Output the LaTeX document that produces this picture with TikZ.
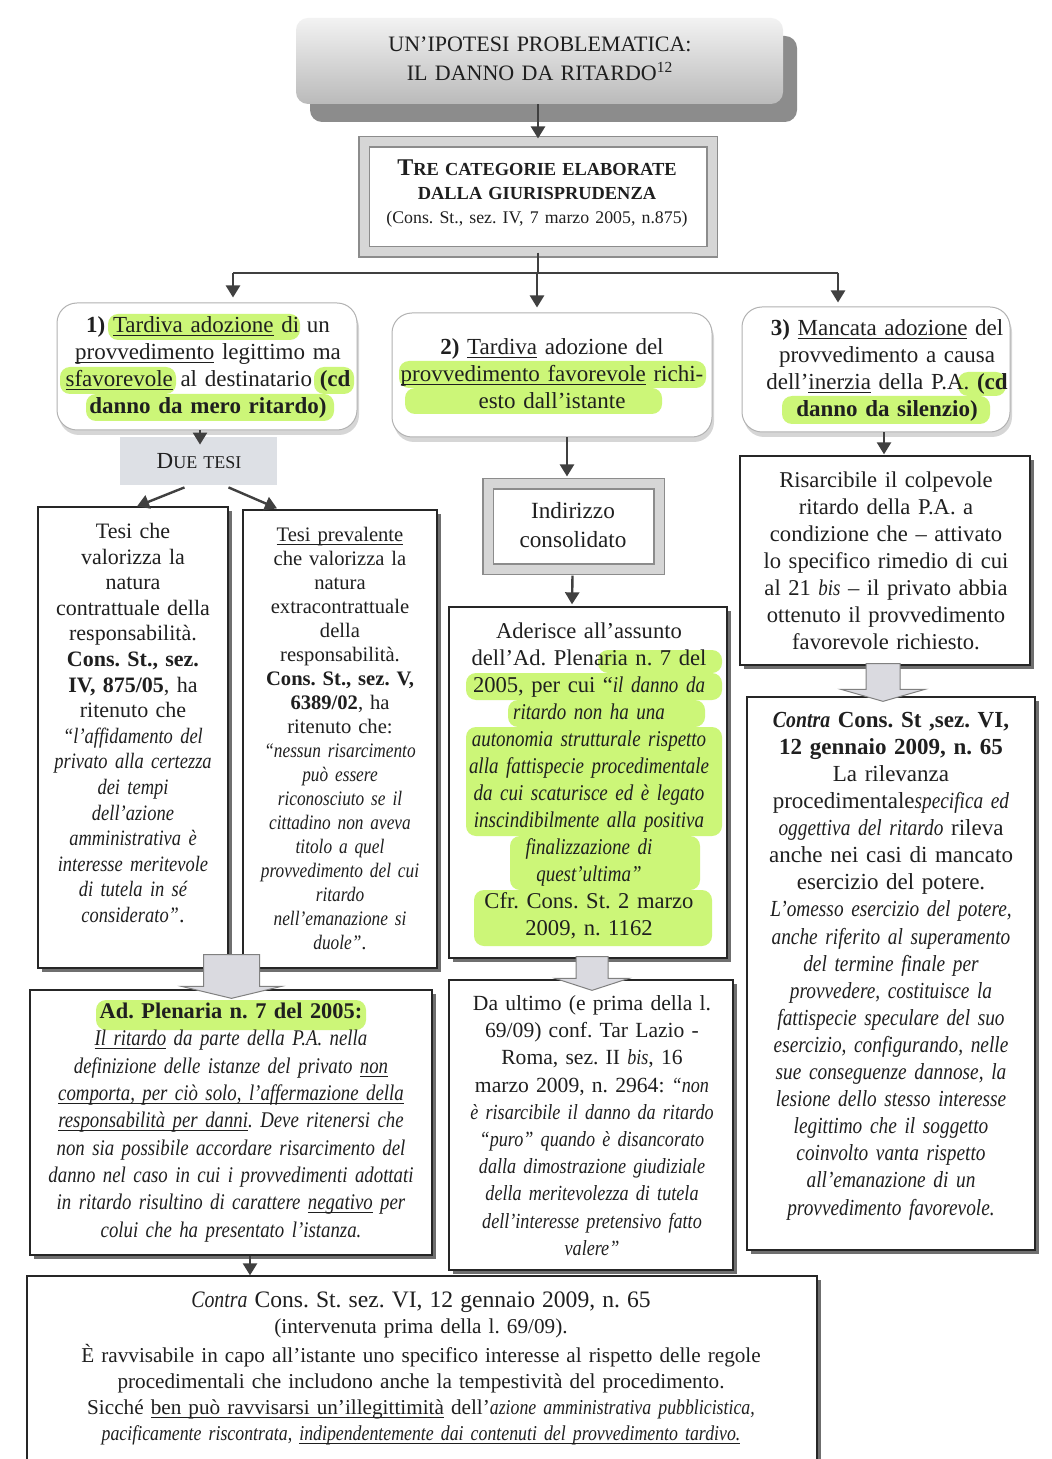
\documentclass[tikz,border=0pt]{standalone}
\usepackage{fontspec}
\setmainfont{Liberation Serif}[ItalicFeatures={FakeStretch=0.84},BoldItalicFeatures={FakeStretch=0.86}]
\usetikzlibrary{arrows.meta,shadows,calc}

% underline sitting just below the baseline
\newcommand\undl[1]{\leavevmode\setbox0\hbox{#1}\rlap{\rule[-1.7pt]{\wd0}{0.45pt}}\box0\relax}

\definecolor{hlgreen}{RGB}{204,246,120}
\definecolor{inkgray}{RGB}{64,64,64}
\definecolor{duefill}{RGB}{221,224,229}
\definecolor{blockfill}{RGB}{218,218,224}

\tikzset{
  frame/.style={draw=black!85, line width=0.65pt, fill=white,
    drop shadow={shadow xshift=2.2pt, shadow yshift=-2.2pt, fill=black!70, opacity=0.8}},
  roundframe/.style={draw=black!30, line width=0.5pt, rounded corners=10pt, fill=white,
    drop shadow={shadow xshift=1pt, shadow yshift=-2.5pt, fill=black!45, opacity=0.35}},
  dblframe/.style={draw=black!45, line width=0.55pt, double=black!16, double distance=4.5pt, fill=white},
  titleframe/.style={rounded corners=6pt, top color=black!5, bottom color=black!27,
    drop shadow={shadow xshift=7pt, shadow yshift=-9pt, fill=black!45, opacity=1}},
  duebox/.style={fill=duefill},
  txt/.style={align=center, inner sep=0pt, text=black!88, text width=#1},
  txt/.default=240pt,
  conn/.style={draw=inkgray, line width=1pt},
  arr/.style={draw=inkgray, line width=1.2pt, -{Triangle[width=7pt,length=6pt]}},
  blockarrow/.style={draw=black!50, line width=0.5pt, fill=blockfill},
  hl/.style={fill=hlgreen, rounded corners=5pt},
}

% wide hollow arrow: #1 top, #2 tip, #3 half shaft, #4 half head, #5 head length
\newcommand\blockarrow[5]{%
  \draw[blockarrow] ($(#1)+(-#3,0)$) -- ($(#2)+(-#3,-#5)$) -- ($(#2)+(-#4,-#5)$) -- (#2)
    -- ($(#2)+(#4,-#5)$) -- ($(#2)+(#3,-#5)$) -- ($(#1)+(#3,0)$) -- cycle;}

\begin{document}
\frenchspacing
\begin{tikzpicture}[x=0.5pt, y=-0.5pt]
\useasboundingbox (0,0) rectangle (1052,1459);
\fill[white] (0,0) rectangle (1052,1459);

% ---------- frames ----------
\node[titleframe, minimum width=243.5pt, minimum height=43pt] (title) at (539.5,61) {};
\node[dblframe, minimum width=174pt, minimum height=55pt] (cat) at (538,197) {};

\node[roundframe, minimum width=150pt, minimum height=63.5pt] (A1) at (207,366.5) {};
\node[roundframe, minimum width=160pt, minimum height=62pt] (A2) at (552,375) {};
\node[roundframe, minimum width=134pt, minimum height=62.5pt] (A3) at (876,369.5) {};

\node[duebox, minimum width=78.5pt, minimum height=24pt] (due) at (198.5,461) {};

\node[frame, minimum width=95pt, minimum height=230.5pt] (B1) at (133,737.5) {};
\node[frame, minimum width=97pt, minimum height=229pt] (B2) at (340,739) {};

\node[dblframe, minimum width=85.5pt, minimum height=42.5pt] (ind) at (573.5,526.5) {};
\node[frame, minimum width=139pt, minimum height=175.5pt] (C2) at (588,782.5) {};

\node[frame, minimum width=145pt, minimum height=104.5pt] (R1) at (885,560.5) {};
\node[frame, minimum width=144pt, minimum height=276.5pt] (R2) at (891,973.5) {};

\node[frame, minimum width=201pt, minimum height=132.5pt] (C1) at (231,1122.5) {};
\node[frame, minimum width=142pt, minimum height=145pt] (D2) at (591,1125) {};

\node[frame, minimum width=395pt, minimum height=95pt] (E) at (422,1371) {};

% ---------- highlighter marks ----------
\fill[hl] (108,314) rectangle (300,340);
\fill[hl] (60,367) rectangle (176,394);
\fill[hl] (314,367) rectangle (354,394);
\fill[hl] (86,394) rectangle (334,421);
\fill[hl] (399,361) rectangle (706,388);
\fill[hl] (405,388) rectangle (662,414);
\fill[hl] (958,372) rectangle (1006,396);
\fill[hl] (782,396) rectangle (990,424);
\fill[hl] (96,1000) rectangle (366,1030);
\fill[hl] (598,650) rectangle (722,673);
\fill[hl] (466,673) rectangle (722,700);
\fill[hl] (508,700) rectangle (705,727);
\fill[hl] (466,727) rectangle (722,836);
\fill[hl] (510,836) rectangle (700,890);
\fill[hl] (474,890) rectangle (712,946);

% ---------- texts ----------
\node[txt, font=\fontsize{11}{14.5}\selectfont] (titlet) at (540,58.5)
  {UN’IPOTESI PROBLEMATICA:\\ IL DANNO DA RITARDO\textsuperscript{12}};

\node[txt, font=\fontsize{9.2}{12}\selectfont] (catt) at (537,194)
  {\textbf{{\fontsize{12}{12}\selectfont T}RE CATEGORIE ELABORATE}\\
   \textbf{DALLA GIURISPRUDENZA}\\
   {\fontsize{8.9}{12}\selectfont (Cons. St., sez. IV, 7 marzo 2005, n.875)}};

\node[txt, font=\fontsize{11.5}{13.5}\selectfont] (A1t) at (208,367)
  {\textbf{1)} \undl{Tardiva adozione} di un\\
   \undl{provvedimento} legittimo ma\\
   \undl{sfavorevole} al destinatario \textbf{(cd}\\
   \textbf{danno da mero ritardo)}};

\node[txt, font=\fontsize{11.5}{13.5}\selectfont] (A2t) at (552,374)
  {\textbf{2)} \undl{Tardiva} adozione del\\
   \undl{provvedimento favorevole} richi-\\
   esto dall’istante};

\node[txt, font=\fontsize{11.5}{13.5}\selectfont] (A3t) at (887,370)
  {\textbf{3)} \undl{Mancata adozione} del\\
   provvedimento a causa\\
   dell’\undl{inerzia} della P.A. \textbf{(cd}\\
   \textbf{danno da silenzio)}};

\node[txt, font=\fontsize{9}{13}\selectfont] (duet) at (199,461)
  {{\fontsize{11.5}{13}\selectfont D}UE TESI};

\node[txt, font=\fontsize{11}{12.8}\selectfont] (B1t) at (133,723)
  {Tesi che\\ valorizza la\\ natura\\ contrattuale della\\ responsabilità.\\
   \textbf{Cons. St., sez.}\\ \textbf{IV, 875/05}, ha\\ ritenuto che\\
   {\itshape “l’affidamento del\\ privato alla certezza\\ dei tempi\\ dell’azione\\
   amministrativa è\\ interesse meritevole\\ di tutela in sé\\ considerato”}.};

\node[txt, font=\fontsize{10.3}{12}\selectfont] (B2t) at (340,738.5)
  {\undl{Tesi prevalente}\\ che valorizza la\\ natura\\ extracontrattuale\\ della\\ responsabilità.\\
   \textbf{Cons. St., sez. V,}\\ \textbf{6389/02}, ha\\ ritenuto che:\\
   {\itshape “nessun risarcimento\\ può essere\\ riconosciuto se il\\ cittadino non aveva\\
   titolo a quel\\ provvedimento del cui\\ ritardo\\ nell’emanazione si\\ duole”}.};

\node[txt, font=\fontsize{11.6}{14.5}\selectfont] (indt) at (573,525.5)
  {Indirizzo\\ consolidato};

\node[txt, font=\fontsize{11.3}{13.5}\selectfont] (C2t) at (589,781)
  {Aderisce all’assunto\\ dell’Ad. Plenaria n. 7 del\\ 2005, per cui “{\itshape il danno da\\
   ritardo non ha una\\ autonomia strutturale rispetto\\ alla fattispecie procedimentale\\
   da cui scaturisce ed è legato\\ inscindibilmente alla positiva\\ finalizzazione di\\
   quest’ultima”}\\ Cfr. Cons. St. 2 marzo\\ 2009, n. 1162};

\node[txt, font=\fontsize{11.3}{13.5}\selectfont] (R1t) at (886,561)
  {Risarcibile il colpevole\\ ritardo della P.A. a\\ condizione che – attivato\\
   lo specifico rimedio di cui\\ al 21 \textit{bis} – il privato abbia\\
   ottenuto il provvedimento\\ favorevole richiesto.};

\node[txt, font=\fontsize{11.5}{13.55}\selectfont] (R2t) at (891,966)
  {\textbf{\textit{Contra} Cons. St ,sez. VI,}\\ \textbf{12 gennaio 2009, n. 65}\\
   La rilevanza\\ procedimentale\textit{specifica ed}\\ \textit{oggettiva del ritardo} rileva\\
   anche nei casi di mancato\\ esercizio del potere.\\
   {\itshape L’omesso esercizio del potere,\\ anche riferito al superamento\\
   del termine finale per\\ provvedere, costituisce la\\ fattispecie speculare del suo\\
   esercizio, configurando, nelle\\ sue conseguenze dannose, la\\
   lesione dello stesso interesse\\ legittimo che il soggetto\\ coinvolto vanta rispetto\\
   all’emanazione di un\\ provvedimento favorevole.}};

\node[txt, font=\fontsize{11.2}{13.65}\selectfont] (C1t) at (231,1122.5)
  {\textbf{Ad. Plenaria n. 7 del 2005:}\\
   {\itshape \undl{Il ritardo} da parte della P.A. nella\\
   definizione delle istanze del privato \undl{non}\\
   \undl{comporta, per ciò solo, l’affermazione della}\\
   \undl{responsabilità per danni}. Deve ritenersi che\\
   non sia possibile accordare risarcimento del\\
   danno nel caso in cui i provvedimenti adottati\\
   in ritardo risultino di carattere \undl{negativo} per\\
   colui che ha presentato l’istanza.}};

\node[txt, font=\fontsize{10.8}{13.6}\selectfont] (D2t) at (592,1125.5)
  {Da ultimo (e prima della l.\\ 69/09) conf. Tar Lazio -\\ Roma, sez. II \textit{bis}, 16\\
   marzo 2009, n. 2964: \textit{“non}\\
   {\itshape è risarcibile il danno da ritardo\\ “puro” quando è disancorato\\
   dalla dimostrazione giudiziale\\ della meritevolezza di tutela\\
   dell’interesse pretensivo fatto\\ valere”}};

\node[txt=400pt, font=\fontsize{10.6}{13}\selectfont] (Et) at (421,1368)
  {{\fontsize{11.8}{13}\selectfont \textit{Contra} Cons. St. sez. VI, 12 gennaio 2009, n. 65}\\
   (intervenuta prima della l. 69/09).\\[1.5pt]
   È ravvisabile in capo all’istante uno specifico interesse al rispetto delle regole\\
   procedimentali che includono anche la tempestività del procedimento.\\
   Sicché \undl{ben può ravvisarsi un’illegittimità} dell’\textit{azione amministrativa pubblicistica,}\\
   {\itshape pacificamente riscontrata, \undl{indipendentemente dai contenuti del provvedimento tardivo.}}};

% ---------- connectors ----------
\draw[arr] (cat.north |- title.south) -- ($(cat.north)+(0,-3)$);

\coordinate (a1in) at ($(A1.north)+(26,-5)$);
\coordinate (a2in) at ($(A2.north)+(-15,-5)$);
\coordinate (a3in) at ($(A3.north)+(-38,-4)$);
\draw[conn] (cat.south) -- ++(0,20) coordinate (fk);
\draw[conn] (a1in |- fk) -- (a3in |- fk);
\draw[arr] (a1in |- fk) -- (a1in);
\draw[arr] (a2in |- fk) -- (a2in);
\draw[arr] (a3in |- fk) -- (a3in);

\draw[arr] ($(A1.south)+(-7,0)$) -- ($(due.north)+(1.5,8)$);
\draw[arr] ($(due.south)+(-14,2)$) -- ($(B1.north)+(4,0)$);
\draw[arr] ($(due.south)+(30,2)$) -- ($(B2.north)+(-63,-1)$);

\draw[arr] ($(A2.south)+(15,0)$) -- ($(ind.north)+(-6.5,-7)$);
\draw[arr] ($(ind.south)+(-1,6)$) -- ($(C2.north)+(-16,-2)$);

\draw[arr] ($(A3.south)+(8,0)$) -- ($(R1.north)+(-1,-1)$);

\draw[arr] ($(C1.south)+(19,0)$) -- ($(E.north)+(-172,0)$);

% hollow arrows between stacked boxes
\coordinate (bmid) at ($(B1.south east)!0.5!(B2.south west)$);
\coordinate (ba1top) at ($(bmid)+(-4,-14)$);
\coordinate (ba1tip) at ($(bmid |- C1.north)+(-4,9)$);
\blockarrow{ba1top}{ba1tip}{28}{50}{12}

\coordinate (ba2top) at ($(C2.south)+(4,-2)$);
\coordinate (ba2tip) at ($(C2.south |- D2.north)+(4,11)$);
\blockarrow{ba2top}{ba2tip}{16}{37}{12}

\coordinate (ba3top) at ($(R1.south)+(-2,-2)$);
\coordinate (ba3tip) at ($(R1.south |- R2.north)+(-2,5)$);
\blockarrow{ba3top}{ba3tip}{17}{42}{12}

\end{tikzpicture}
\end{document}
